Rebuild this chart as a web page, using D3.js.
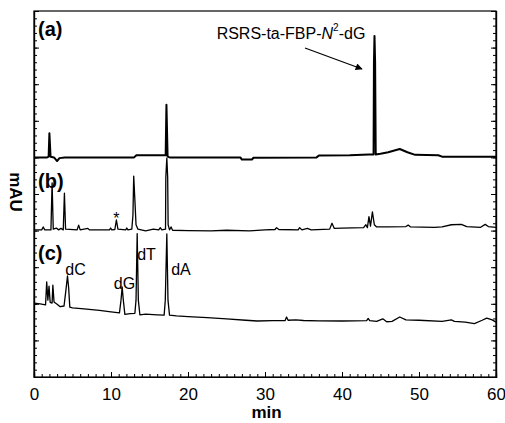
<!DOCTYPE html>
<html>
<head>
<meta charset="utf-8">
<script src="https://cdn.jsdelivr.net/npm/d3@7"></script>
<style>
  html, body { margin: 0; padding: 0; background: #fff; }
  svg { display: block; font-family: Arial, "Liberation Sans", sans-serif; }
</style>
</head>
<body>
<svg id="chart" width="505" height="423"></svg>
<script>
// Retention time (min) vs. absorbance (mAU), three stacked runs.
const xTicks = [0, 10, 20, 30, 40, 50, 60];

// (a) purified adduct
const traceA = [
  [0, 30.0], [1.7, 30.0], [1.9, 30.1], [2.0, 33.3], [2.15, 30.1], [2.6, 30.0], [3.0, 29.5], [3.3, 29.9],
  [4.0, 30.0], [13.0, 30.0], [13.3, 30.3], [17.1, 30.3], [17.2, 37.2], [17.35, 30.1], [17.6, 30.0],
  [26.8, 30.0], [27.0, 29.7], [28.3, 29.7], [28.5, 29.95], [36.7, 30.0], [37.0, 30.25], [41.0, 30.3],
  [43.5, 30.4], [44.1, 30.4], [44.15, 43.0], [44.22, 46.6], [44.3, 43.0], [44.38, 30.4], [45.0, 30.5],
  [46.0, 30.7], [47.5, 31.15], [48.5, 30.7], [49.5, 30.35], [52.5, 30.3], [53.0, 30.1], [60.0, 30.1]
];

// (b)
const traceB = [
  [0, 20.1], [1.0, 20.1], [1.2, 20.5], [1.4, 20.1], [2.2, 20.1], [2.35, 26.5], [2.5, 20.2], [2.9, 20.35],
  [3.2, 20.1], [3.5, 20.3], [3.8, 20.1], [3.95, 25.1], [4.1, 20.2], [5.6, 20.1], [5.8, 20.75], [6.0, 20.1],
  [7.0, 20.3], [7.2, 20.1], [9.8, 20.1], [9.95, 20.35], [10.1, 20.1], [10.5, 20.15], [10.7, 21.45],
  [10.9, 20.2], [11.9, 20.1], [12.05, 20.35], [12.2, 20.1], [12.7, 20.2], [12.85, 22.1], [12.95, 27.45],
  [13.1, 24.2], [13.25, 20.8], [13.5, 20.2], [14.5, 19.95], [15.5, 20.2], [16.2, 20.1], [16.4, 20.4],
  [16.6, 20.1], [17.08, 20.2], [17.12, 27.3], [17.25, 29.9], [17.36, 27.3], [17.42, 20.8], [17.6, 20.1],
  [17.8, 20.5], [18.0, 20.05], [20.0, 20.0], [23.0, 19.95], [25.0, 20.05], [28.0, 19.95], [30.0, 20.1],
  [31.3, 20.15], [31.5, 20.4], [31.8, 20.15], [34.3, 20.1], [34.5, 20.4], [34.8, 20.1], [35.5, 20.3],
  [36.0, 20.1], [38.4, 20.2], [38.7, 21.0], [39.0, 20.3], [40.0, 20.35], [42.8, 20.4], [43.1, 20.8],
  [43.3, 20.4], [43.5, 21.9], [43.7, 20.6], [43.95, 22.55], [44.2, 20.8], [44.5, 20.5], [46.0, 20.5],
  [48.3, 20.55], [48.6, 20.75], [48.9, 20.5], [52.0, 20.45], [53.0, 20.5], [54.2, 20.8], [55.5, 20.85],
  [56.2, 20.55], [58.0, 20.45], [58.6, 20.85], [59.0, 20.55], [60.0, 20.45]
];

// (c) nucleoside standards
const traceC = [
  [0, 10.1], [0.8, 10.0], [1.5, 9.85], [1.65, 13.0], [1.8, 10.5], [1.95, 12.4], [2.1, 10.2], [2.35, 10.1],
  [2.45, 12.55], [2.6, 10.25], [3.0, 9.95], [3.4, 9.6], [3.9, 9.7], [4.15, 11.9], [4.35, 13.8], [4.5, 12.2],
  [4.65, 9.55], [5.0, 9.45], [6.5, 9.3], [8.5, 9.1], [10.0, 8.9], [11.1, 8.75], [11.3, 10.5], [11.45, 12.3],
  [11.6, 10.5], [11.8, 8.55], [12.5, 8.65], [13.1, 8.7], [13.25, 10.5], [13.4, 19.6], [13.55, 10.5],
  [13.75, 8.5], [14.5, 8.6], [16.0, 8.5], [16.9, 8.45], [17.05, 10.5], [17.25, 19.55], [17.4, 10.5],
  [17.6, 8.45], [18.5, 8.35], [20.0, 8.25], [22.5, 8.1], [25.0, 7.95], [27.5, 7.75], [29.0, 7.65],
  [31.0, 7.7], [32.6, 7.7], [32.8, 8.2], [33.0, 7.75], [34.0, 7.8], [35.0, 7.72], [37.0, 7.68],
  [40.0, 7.65], [43.2, 7.7], [43.4, 8.0], [43.6, 7.7], [44.5, 7.6], [45.3, 7.95], [45.8, 7.55],
  [46.5, 7.6], [47.5, 8.2], [48.3, 7.8], [50.0, 7.75], [53.0, 7.6], [54.2, 7.8], [54.6, 7.6], [56.0, 7.5],
  [57.2, 7.3], [58.2, 7.75], [58.8, 8.05], [59.5, 7.8], [60.0, 7.5]
];

// Peak labels: [text, min, mAU]
const peakLabels = [
  ["dC", 5.39, 14.62],
  ["dG", 11.75, 12.84],
  ["dT", 14.61, 16.67],
  ["dA", 19.09, 14.62]
];
const starLabel = ["*", 10.71, 21.6];

const panelLabels = ["(a)", "(b)", "(c)"];

const svg = d3.select("#chart");
const margin = { left: 34, right: 9, top: 11, bottom: 46 };
const W = 505, H = 423;

const x = d3.scaleLinear().domain([0, 60]).range([margin.left, W - margin.right]);
const y = d3.scaleLinear().domain([0, 50]).range([H - margin.bottom, margin.top]);

// Frame
svg.append("rect")
  .attr("x", x(0)).attr("y", y(50))
  .attr("width", x(60) - x(0)).attr("height", y(0) - y(50))
  .attr("fill", "none").attr("stroke", "#000").attr("stroke-width", 1.2);

// Axes with inward ticks
function styleAxis(g) {
  g.select(".domain").attr("stroke", "#000").attr("stroke-width", 1.2);
  g.selectAll(".tick line").attr("stroke", "#000").attr("stroke-width", 1);
}

svg.append("g").attr("transform", `translate(0,${y(0)})`)
  .call(d3.axisBottom(x).tickValues(d3.range(0, 61, 1)).tickSize(-3).tickFormat(""))
  .call(styleAxis);
svg.append("g").attr("transform", `translate(0,${y(0)})`)
  .call(d3.axisBottom(x).tickValues(xTicks).tickSize(-5).tickPadding(11).tickFormat(d3.format("d")))
  .call(styleAxis)
  .call(g => g.selectAll("text").attr("font-size", 17).attr("fill", "#000"));

svg.append("g").attr("transform", `translate(${x(0)},0)`)
  .call(d3.axisLeft(y).tickValues(d3.range(0, 51, 1)).tickSize(-3).tickFormat(""))
  .call(styleAxis);
svg.append("g").attr("transform", `translate(${x(0)},0)`)
  .call(d3.axisLeft(y).tickValues(d3.range(0, 51, 5)).tickSize(-5).tickFormat(""))
  .call(styleAxis);
svg.append("g").attr("transform", `translate(${x(60)},0)`)
  .call(d3.axisRight(y).tickValues(d3.range(0, 51, 1)).tickSize(-3).tickFormat(""))
  .call(styleAxis);
svg.append("g").attr("transform", `translate(${x(60)},0)`)
  .call(d3.axisRight(y).tickValues(d3.range(0, 51, 5)).tickSize(-5).tickFormat(""))
  .call(styleAxis);

// Traces
const line = d3.line().x(d => x(d[0])).y(d => y(d[1]));
const traces = [
  { data: traceA, w: 2.0 },
  { data: traceB, w: 1.3 },
  { data: traceC, w: 1.3 }
];
svg.append("g").selectAll("path").data(traces).join("path")
  .attr("d", d => line(d.data))
  .attr("fill", "none").attr("stroke", "#000")
  .attr("stroke-width", d => d.w).attr("stroke-linejoin", "round");

// Panel letters
const panelY = [29, 181, 253];
svg.append("g").selectAll("text").data(panelLabels).join("text")
  .attr("x", 38).attr("y", (d, i) => panelY[i])
  .attr("dominant-baseline", "central")
  .attr("font-size", 20).attr("font-weight", "bold").text(d => d);

// Peak names
svg.append("g").selectAll("text").data(peakLabels).join("text")
  .attr("x", d => x(d[1])).attr("y", d => y(d[2]))
  .attr("text-anchor", "middle").attr("dominant-baseline", "central")
  .attr("font-size", 16).text(d => d[0]);
svg.append("text")
  .attr("x", x(starLabel[1])).attr("y", y(starLabel[2]))
  .attr("text-anchor", "middle").attr("dominant-baseline", "central")
  .attr("font-size", 16).text(starLabel[0]);

// Adduct annotation with arrow
const defs = svg.append("defs");
defs.append("marker").attr("id", "arrowhead")
  .attr("viewBox", "0 0 10 10").attr("refX", 9).attr("refY", 5)
  .attr("markerWidth", 9).attr("markerHeight", 7).attr("markerUnits", "userSpaceOnUse")
  .attr("orient", "auto")
  .append("path").attr("d", "M0,0 L10,5 L0,10 Z").attr("fill", "#000");

const ann = svg.append("text").attr("x", 291).attr("y", 33)
  .attr("text-anchor", "middle").attr("dominant-baseline", "central").attr("font-size", 16);
ann.append("tspan").text("RSRS-ta-FBP-");
ann.append("tspan").attr("font-style", "italic").text("N");
ann.append("tspan").attr("font-size", 10).attr("dy", -6).text("2");
ann.append("tspan").attr("dy", 6).text("-dG");

svg.append("line")
  .attr("x1", 305).attr("y1", 48).attr("x2", 362).attr("y2", 69)
  .attr("stroke", "#000").attr("stroke-width", 1.2)
  .attr("marker-end", "url(#arrowhead)");

// Axis titles
svg.append("text").attr("x", x(30.2)).attr("y", 418)
  .attr("text-anchor", "middle")
  .attr("font-size", 17).attr("font-weight", "bold").text("min");
svg.append("text").attr("transform", "translate(15,192) rotate(90)")
  .attr("text-anchor", "middle").attr("dominant-baseline", "central")
  .attr("font-size", 17).attr("font-weight", "bold").text("mAU");
</script>
</body>
</html>
